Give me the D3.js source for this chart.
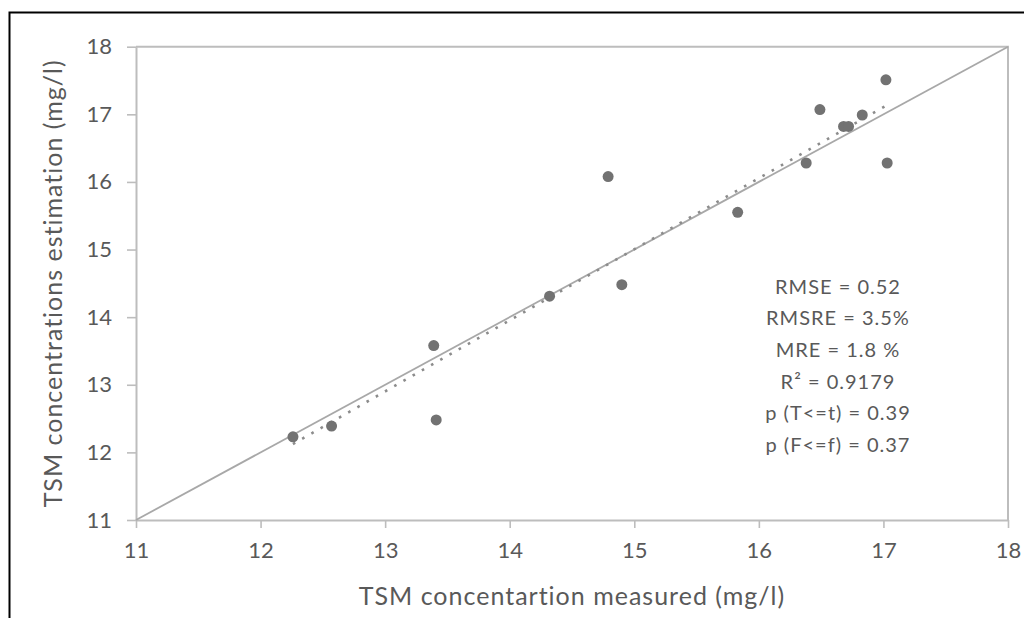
<!DOCTYPE html>
<html>
<head>
<meta charset="utf-8">
<script src="https://cdn.jsdelivr.net/npm/d3@7"></script>
<style>
  html, body { margin: 0; padding: 0; background: #fff; }
  svg { display: block; }
  text { font-family: Lato, "Open Sans", sans-serif; fill: #595959; }
</style>
</head>
<body>
<svg id="chart" width="1024" height="618"></svg>
<script>
// Measured vs. estimated TSM concentration (mg/l)
const measured  = [12.26, 12.57, 13.39, 13.41, 14.32, 14.79, 14.90, 15.83, 16.38, 16.49, 16.68, 16.72, 16.83, 17.02, 17.03];
const estimated = [12.23, 12.39, 13.58, 12.48, 14.31, 16.08, 14.48, 15.55, 16.28, 17.07, 16.82, 16.82, 16.99, 17.51, 16.28];
const axisTicks = [11, 12, 13, 14, 15, 16, 17, 18];
const axisDomain = [11, 18];
const statLines = ["RMSE = 0.52", "RMSRE = 3.5%", "MRE = 1.8 %", "R\u00B2 = 0.9179", "p (T<=t) = 0.39", "p (F<=f) = 0.37"];
const xTitle = "TSM concentartion measured (mg/l)";
const yTitle = "TSM concentrations estimation (mg/l)";

const svg = d3.select("#chart");
const plot = { left: 136, right: 1008, top: 46.7, bottom: 520 };
const axisColor = "#bdbdbd";

// Outer frame (runs past the right and bottom edges)
svg.append("rect")
  .attr("x", 9.5).attr("y", 12.5)
  .attr("width", 1100).attr("height", 700)
  .attr("fill", "none").attr("stroke", "#000").attr("stroke-width", 2);

const x = d3.scaleLinear().domain(axisDomain).range([plot.left, plot.right]);
const y = d3.scaleLinear().domain(axisDomain).range([plot.bottom, plot.top]);

// Plot box: top and right edges
svg.append("path")
  .attr("d", `M${x(11)},${y(18)}H${x(18)}V${y(11)}`)
  .attr("fill", "none").attr("stroke", axisColor).attr("stroke-width", 2);

// X axis
const gx = svg.append("g")
  .attr("transform", `translate(0,${plot.bottom})`)
  .call(d3.axisBottom(x).tickValues(axisTicks).tickSize(8).tickSizeOuter(0).tickPadding(14).tickFormat(d3.format("d")));
gx.select(".domain").attr("stroke", axisColor).attr("stroke-width", 2);
gx.selectAll(".tick line").attr("stroke", axisColor).attr("stroke-width", 1.6);
gx.selectAll(".tick text").style("font-size", "22px").attr("fill", "#595959");

// Y axis
const gy = svg.append("g")
  .attr("transform", `translate(${plot.left},0)`)
  .call(d3.axisLeft(y).tickValues(axisTicks).tickSize(9).tickSizeOuter(0).tickPadding(15).tickFormat(d3.format("d")));
gy.select(".domain").attr("stroke", axisColor).attr("stroke-width", 2);
gy.selectAll(".tick line").attr("stroke", axisColor).attr("stroke-width", 1.6);
gy.selectAll(".tick text").style("font-size", "22px").attr("fill", "#595959");

// 1:1 reference line
svg.append("line")
  .attr("x1", x(axisDomain[0])).attr("y1", y(axisDomain[0]))
  .attr("x2", x(axisDomain[1])).attr("y2", y(axisDomain[1]))
  .attr("stroke", "#a8a8a8").attr("stroke-width", 1.8);

// Least-squares trend line over the measured range
const mx = d3.mean(measured), my = d3.mean(estimated);
const sxy = d3.sum(measured, (v, i) => (v - mx) * (estimated[i] - my));
const sxx = d3.sum(measured, v => (v - mx) * (v - mx));
const slope = sxy / sxx, intercept = my - slope * mx;
const [xmin, xmax] = d3.extent(measured);
svg.append("line")
  .attr("x1", x(xmin)).attr("y1", y(slope * xmin + intercept))
  .attr("x2", x(xmax)).attr("y2", y(slope * xmax + intercept))
  .attr("stroke", "#8c8c8c").attr("stroke-width", 2.6)
  .attr("stroke-dasharray", "2.6 8");

// Points
svg.append("g").selectAll("circle")
  .data(measured.map((v, i) => [v, estimated[i]]))
  .join("circle")
  .attr("cx", d => x(d[0])).attr("cy", d => y(d[1]))
  .attr("r", 5.5).attr("fill", "#727272");

// Statistics block
svg.append("g").selectAll("text")
  .data(statLines)
  .join("text")
  .attr("x", 838)
  .attr("y", (d, i) => 293.5 + i * 31.7)
  .attr("text-anchor", "middle")
  .style("font-size", "20px")
  .style("letter-spacing", "1px")
  .text(d => d);

// Axis titles
svg.append("text")
  .attr("x", (plot.left + plot.right) / 2).attr("y", 605)
  .attr("text-anchor", "middle")
  .style("font-size", "25px")
  .style("letter-spacing", "1px")
  .text(xTitle);

svg.append("text")
  .attr("transform", `translate(62,${(plot.top + plot.bottom) / 2}) rotate(-90)`)
  .attr("text-anchor", "middle")
  .style("font-size", "25px")
  .style("letter-spacing", "1px")
  .text(yTitle);
</script>
</body>
</html>
